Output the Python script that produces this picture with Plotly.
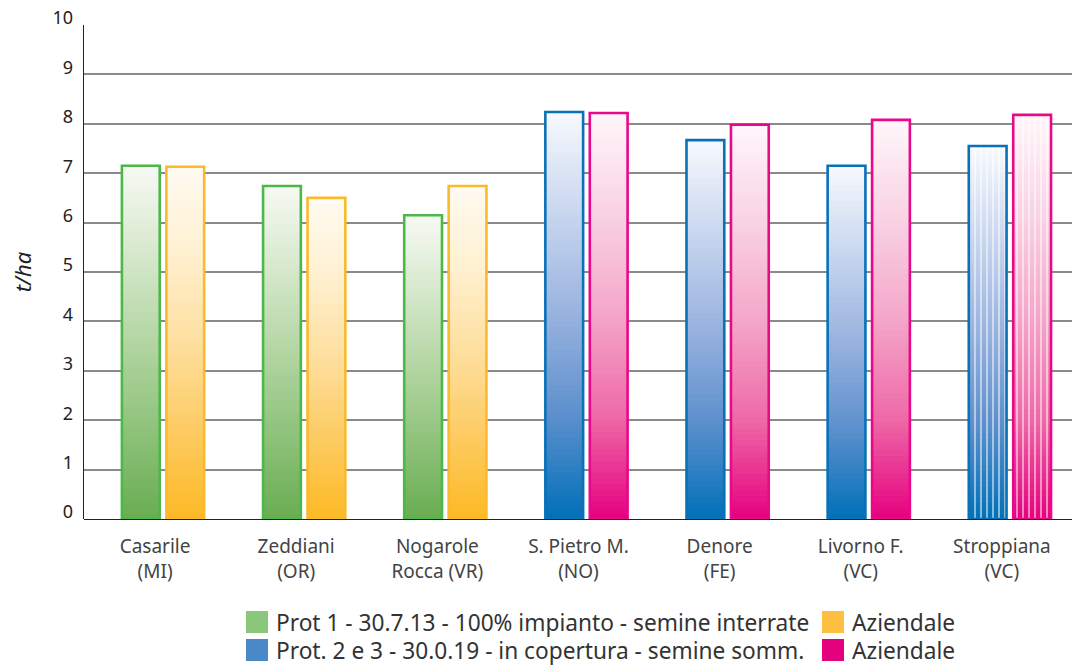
import plotly.graph_objects as go

# Yield per site (t/ha)
sites = ["Casarile<br>(MI)", "Zeddiani<br>(OR)", "Nogarole<br>Rocca (VR)", "S. Pietro M.<br>(NO)",
         "Denore<br>(FE)", "Livorno F.<br>(VC)", "Stroppiana<br>(VC)"]
protocol_yield = [7.15, 6.74, 6.15, 8.24, 7.67, 7.15, 7.55]
farm_yield = [7.13, 6.50, 6.74, 8.22, 7.98, 8.08, 8.18]
protocol_group = [1, 1, 1, 2, 2, 2, 2]   # 1 = Prot 1, 2 = Prot. 2 e 3
striped = [False, False, False, False, False, False, True]

legend_rows = [
    ("Prot 1 - 30.7.13 - 100% impianto - semine interrate", "#8bc77a", "Aziendale", "#fdc040"),
    ("Prot. 2 e 3 - 30.0.19 - in copertura - semine somm.", "#4a88c8", "Aziendale", "#e5007e"),
]

# gradient stops, from top of the bar (0) to its base (1)
GRAD = {
    "green":  ["#f7faf4", "#d6e8cc", "#b3d5a2", "#8ec27a", "#69ad52"],
    "orange": ["#fffbf2", "#fff0cf", "#fedf9e", "#fdcb62", "#fdb924"],
    "blue":   ["#f7f9fd", "#c8d6ef", "#98b2df", "#5b8fcc", "#0070b8"],
    "pink":   ["#fff6fa", "#f9d2e3", "#f4a6c9", "#ee69a7", "#e6007e"],
}
EDGE = {"green": "#4cb848", "orange": "#fbba2e", "blue": "#0a71b9", "pink": "#e8088a"}


def hex2rgb(h):
    h = h.lstrip("#")
    return tuple(int(h[i:i + 2], 16) for i in (0, 2, 4))


def grad_color(stops, f):
    n = len(stops) - 1
    p = min(max(f, 0), 1) * n
    i = min(int(p), n - 1)
    t = p - i
    a, b = hex2rgb(stops[i]), hex2rgb(stops[i + 1])
    c = [round(a[j] + (b[j] - a[j]) * t) for j in range(3)]
    return f"rgb({c[0]},{c[1]},{c[2]})"


N = 70  # gradient slices per bar
fig = go.Figure()

series = [
    ("a", protocol_yield, ["green" if g == 1 else "blue" for g in protocol_group]),
    ("b", farm_yield, ["orange" if g == 1 else "pink" for g in protocol_group]),
]

for og, vals, pal in series:
    for k in range(N):
        f = 1 - (k + 0.5) / N
        # each slice (except the top one) reaches a little into the next, which covers it
        h = 1.0 if k == N - 1 else 1.8
        fig.add_trace(go.Bar(
            x=sites,
            y=[v / N * h for v in vals],
            base=[v * k / N for v in vals],
            offsetgroup=og,
            marker=dict(color=[grad_color(GRAD[p], f) for p in pal], line=dict(width=0)),
            showlegend=False, hoverinfo="skip",
        ))
    # white vertical stripes on the striped bars
    fig.add_trace(go.Bar(
        x=sites, y=vals, offsetgroup=og,
        marker=dict(
            color="rgba(0,0,0,0)", line=dict(width=0),
            pattern=dict(shape=["|" if s else "" for s in striped], fillmode="replace",
                         fgcolor="white", bgcolor="rgba(0,0,0,0)", fgopacity=0.85,
                         size=6, solidity=0.2),
        ),
        showlegend=False, hoverinfo="skip",
    ))
    # outline of each bar
    fig.add_trace(go.Bar(
        x=sites, y=vals, offsetgroup=og,
        marker=dict(color="rgba(0,0,0,0)", line=dict(color=[EDGE[p] for p in pal], width=2.6)),
        showlegend=False,
        hovertemplate="%{x}: %{y:.2f} t/ha<extra></extra>",
    ))

# odd-value gridlines (grey) on a shadow axis, even-value lines (dark) on the main axis
fig.add_trace(go.Scatter(x=sites, y=[None] * len(sites), yaxis="y2",
                         showlegend=False, hoverinfo="skip"))

FONT = "Noto Sans"
fig.update_layout(
    width=1072, height=666,
    margin=dict(l=84, r=0, t=25, b=147),
    paper_bgcolor="white", plot_bgcolor="white",
    barmode="group", bargap=0.37, bargroupgap=0.15,
    showlegend=False,
    font=dict(family=FONT, color="#333333"),
    xaxis=dict(
        range=[-0.56, 6.44], showgrid=False, showline=False, zeroline=False,
        ticks="", tickfont=dict(size=19, color="#444444"), ticklabelstandoff=14,
        ticklabelshift=-8,
    ),
    yaxis=dict(
        range=[0, 10], dtick=2, tick0=0, showgrid=True, gridcolor="#222222", gridwidth=1.3,
        showticklabels=False, zeroline=True, zerolinecolor="#222222", zerolinewidth=1.3,
        showline=True, linecolor="#222222", linewidth=1.3, ticks="",
        layer="below traces",
    ),
    yaxis2=dict(
        overlaying="y", side="left", range=[0, 10], dtick=1, tick0=0,
        showgrid=True, gridcolor="#8a8a8a", gridwidth=2,
        zeroline=False, showline=False, ticks="",
        tickfont=dict(size=18, color="#222222"), ticklabelstandoff=10, ticklabelshift=-7,
        title=dict(text="t/ha", font=dict(size=22, style="italic", color="#222222"), standoff=14),
    ),
)

# legend: two rows, two entries each
shapes, annots = [], []
row_y = [622, 650]
for r, (lab1, c1, lab2, c2) in enumerate(legend_rows):
    yc = row_y[r]
    for xs, col, lab in ((246, c1, lab1), (822, c2, lab2)):
        shapes.append(dict(type="rect", xref="paper", yref="paper",
                           x0=(xs - 84) / 988, x1=(xs + 22 - 84) / 988,
                           y0=(666 - 147 - (yc + 11)) / 494, y1=(666 - 147 - (yc - 11)) / 494,
                           fillcolor=col, line=dict(width=0)))
        annots.append(dict(xref="paper", yref="paper", x=(xs + 28 - 84) / 988,
                           y=(666 - 147 - yc) / 494, xanchor="left", yanchor="middle",
                           text=lab, showarrow=False, font=dict(size=22.7, color="#333333")))
fig.update_layout(shapes=shapes, annotations=annots)

fig.write_html("out.html")
